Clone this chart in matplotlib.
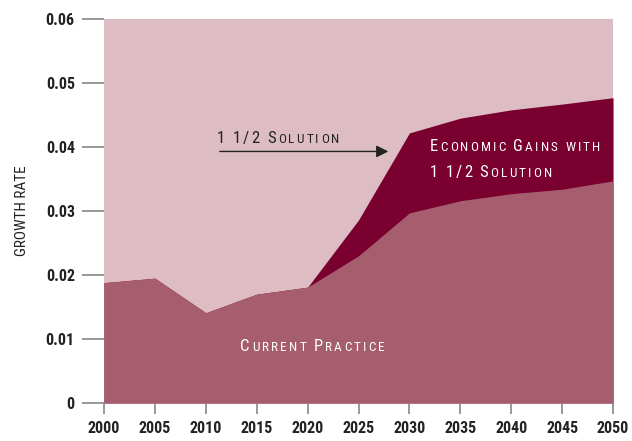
import matplotlib
matplotlib.use("Agg")
from matplotlib import pyplot as plt
from matplotlib import font_manager
from matplotlib.offsetbox import TextArea, HPacker, AnnotationBbox

years = [2000, 2005, 2010, 2015, 2020, 2025, 2030, 2035, 2040, 2045, 2050]
current_practice = [0.0188, 0.0195, 0.0141, 0.0170, 0.0181, 0.0230, 0.0297, 0.0316, 0.0327, 0.0334, 0.0347]
with_solution = [0.0188, 0.0195, 0.0141, 0.0170, 0.0181, 0.0286, 0.0422, 0.0445, 0.0458, 0.0467, 0.0477]
y_ticks = [0, 0.01, 0.02, 0.03, 0.04, 0.05, 0.06]
y_tick_labels = ["0", "0.01", "0.02", "0.03", "0.04", "0.05", "0.06"]

bg = "#ddbdc3"
mid = "#a65e6e"
dark = "#7a0030"

names = set(f.name for f in font_manager.fontManager.ttflist)
cond = [n for n in ["Liberation Sans Narrow", "DejaVu Sans Condensed", "Roboto Condensed",
                    "Open Sans Condensed"] if n in names]
plt.rcParams['font.family'] = cond + ["DejaVu Sans"]
plt.rcParams['font.stretch'] = "condensed"


def small_caps(ax, words, xy, color, big=12, small=9.5):
    # fake small caps: capital letters big, the rest smaller uppercase
    parts = []
    for i, w in enumerate(words):
        if i > 0:
            parts.append(TextArea(" ", textprops=dict(fontsize=small, color=color)))
        for ch in w:
            size = big if (ch.isupper() or not ch.isalpha()) else small
            parts.append(TextArea(ch.upper(), textprops=dict(fontsize=size, color=color)))
    box = HPacker(children=parts, align="baseline", pad=0, sep=1.6)
    ab = AnnotationBbox(box, xy, xycoords="data", frameon=False, box_alignment=(0, 0.5))
    ax.add_artist(ab)


fig = plt.figure(figsize=(6.32, 4.41), dpi=100)
ax = fig.add_axes([0.1646, 0.0862, 0.8054, 0.8708])
ax.set_facecolor(bg)
ax.fill_between(years, 0, with_solution, color=dark, lw=0)
ax.fill_between(years, 0, current_practice, color=mid, lw=0)
ax.set_xlim(2000, 2050)
ax.set_ylim(0, 0.06)
ax.set_xticks(years)
ax.set_xticklabels([str(y) for y in years], fontsize=11.5, fontweight="bold", color="#222222")
ax.set_yticks(y_ticks)
ax.set_yticklabels(y_tick_labels, fontsize=11.5, fontweight="bold", color="#222222")
ax.tick_params(axis="y", length=16, width=1.2, color="#888888", pad=5)
ax.tick_params(axis="x", length=8, width=1.2, color="#888888", pad=5)
for s in ax.spines.values():
    s.set_visible(False)
ax.set_ylabel("GROWTH RATE", fontsize=11, color="#222222", labelpad=12)

ax.annotate("", xy=(2028.2, 0.0393), xytext=(2011.1, 0.0393),
            arrowprops=dict(arrowstyle="-|>", color="#222222", lw=1.0, mutation_scale=18))
small_caps(ax, ["1", "1/2", "Solution"], (2011.1, 0.0414), "#222222")
small_caps(ax, ["Economic", "Gains", "with"], (2032.0, 0.0401), "white")
small_caps(ax, ["1", "1/2", "Solution"], (2032.0, 0.0360), "white")
small_caps(ax, ["Current", "Practice"], (2013.4, 0.0088), "white")

fig.savefig("out.png", dpi=100)
